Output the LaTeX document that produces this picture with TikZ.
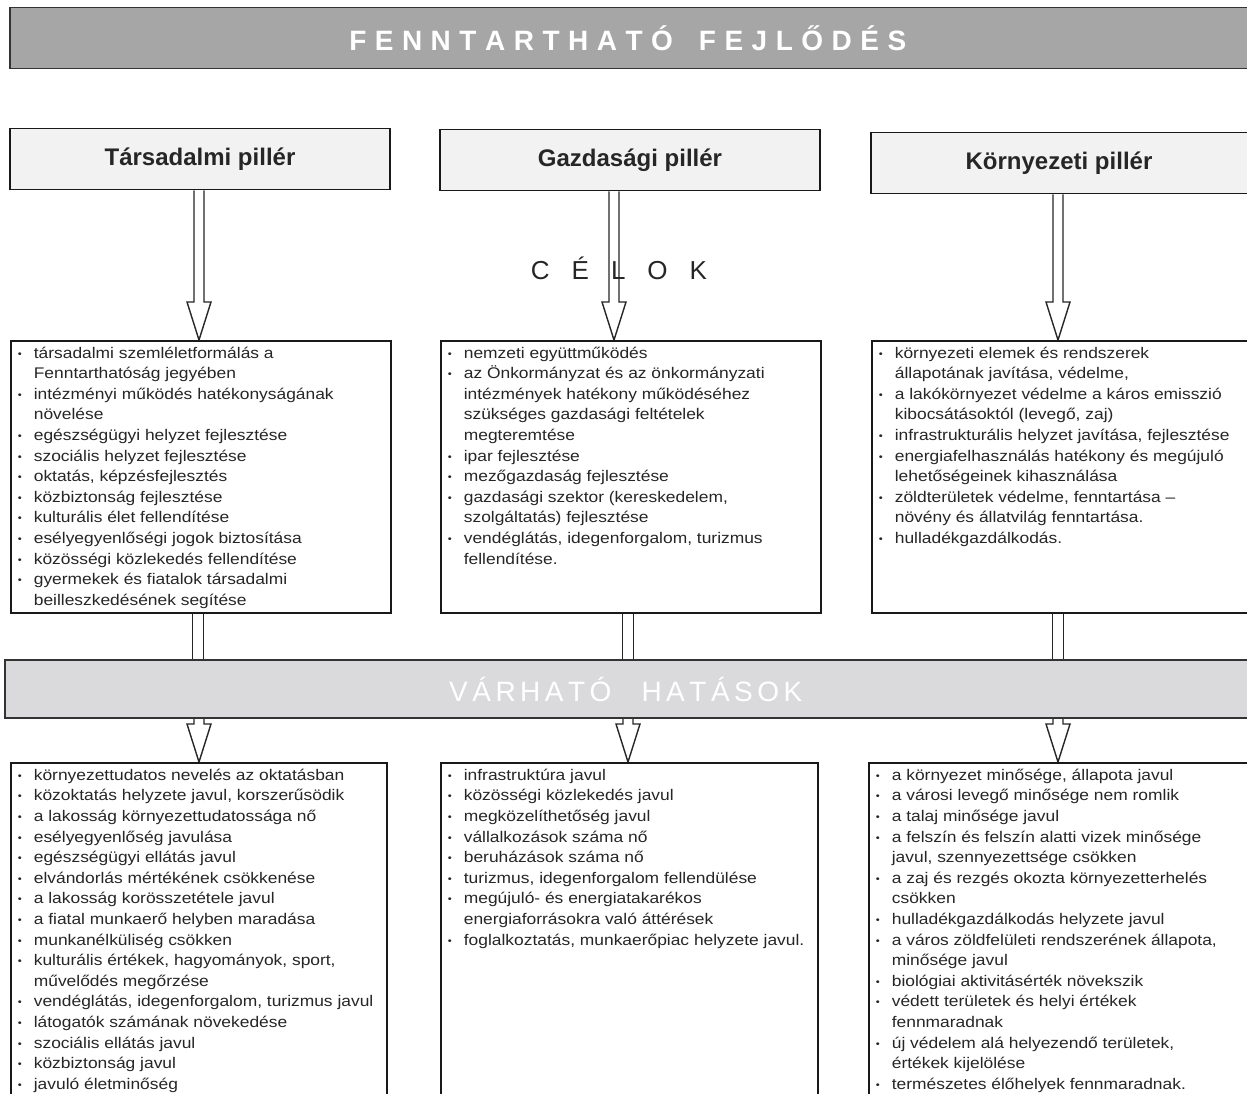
\documentclass[tikz,border=0pt]{standalone}
\usepackage{fontspec}
\setmainfont{Liberation Sans}
\newfontfamily\bodyfont{Liberation Sans}[FakeStretch=1.13]
\usetikzlibrary{calc}
\pgfdeclarelayer{bg}
\pgfsetlayers{bg,main}

\newlength\spgap
\makeatletter
\def\spc#1{\spc@aux#1\@nil}
\def\spc@aux#1{\ifx#1\@nil\hspace{-\spgap}\else#1\hspace{\spgap}\expandafter\spc@aux\fi}
\makeatother

\newcommand\bul{\par\noindent\hangindent=17pt\hangafter=1\makebox[17pt][l]{\hspace{1pt}\raisebox{1pt}{\fontsize{10}{10}\selectfont •}}}
\newcommand\boxtext[3]{\parbox[c][#1][t]{#2}{\raggedright\bodyfont\fontsize{15.4}{20.6}\selectfont\color{black!85}#3}}

\newcommand\hollowarrow[3]{%
  \begin{pgfonlayer}{bg}
  \filldraw[hollow] let \p1=(#1.south), \p2=(#2.north) in
    (#3pt-5pt,\y1) -- (#3pt-5pt,\y2+38pt) -- (#3pt-12pt,\y2+38pt) -- (#3pt,\y2)
    -- (#3pt+12pt,\y2+38pt) -- (#3pt+5pt,\y2+38pt) -- (#3pt+5pt,\y1);
  \end{pgfonlayer}}
\newcommand\hollowlink[3]{%
  \begin{pgfonlayer}{bg}
  \fill[white] let \p1=(#1.south), \p2=(#2.north) in (#3pt-5.5pt,\y1) rectangle (#3pt+5.5pt,\y2);
  \draw[hollow] let \p1=(#1.south), \p2=(#2.north) in
    (#3pt-5.5pt,\y1) -- (#3pt-5.5pt,\y2) (#3pt+5.5pt,\y1) -- (#3pt+5.5pt,\y2);
  \end{pgfonlayer}}

\tikzset{
  hollow/.style={draw=black!85, line width=1.4pt, fill=white},
  titlebar/.style={draw=black!80, line width=1.8pt, fill={rgb,255:red,166;green,166;blue,166},
    minimum width=1244pt, minimum height=61pt, inner sep=0pt, text=white,
    font=\fontsize{28}{32}\selectfont\bfseries},
  effectbar/.style={draw=black!80, line width=1.7pt, fill={rgb,255:red,218;green,218;blue,220},
    minimum width=1246pt, minimum height=58pt, inner sep=0pt, text=white,
    font=\fontsize{28}{32}\selectfont},
  pillar/.style={draw=black!90, line width=1.8pt, fill=black!5, minimum width=380pt,
    minimum height=61pt, inner sep=0pt, text=black!85, font=\fontsize{24}{28}\selectfont\bfseries},
  listbox/.style={draw=black!90, line width=1.7pt, fill=white, anchor=north west,
    inner xsep=6pt, inner ysep=6pt},
  celok/.style={text=black!85, font=\fontsize{26}{30}\selectfont, inner sep=0pt}
}

\begin{document}
\begin{tikzpicture}[x=1pt,y=-1pt]
\useasboundingbox (0,0) rectangle (1247,1093);
\clip (0,0) rectangle (1247,1093);
\begin{pgfonlayer}{bg}
\fill[white] (0,0) rectangle (1247,1093);
\end{pgfonlayer}

% title
\node[titlebar] (title) at (632,38) {\setlength\spgap{8.5pt}\spc{FENNTARTHATÓ}\hspace{26pt}\spc{FEJLŐDÉS}};

% pillars
\node[pillar] (h1) at (200,159) {Társadalmi pillér};
\node[pillar] (h2) at (630,160) {Gazdasági pillér};
\node[pillar, minimum width=384pt] (h3) at (1063,163) {\hspace*{-8pt}Környezeti pillér};

\node[celok] (celok) at (630,268) {\setlength\spgap{22pt}\spc{CÉLOK}};

% goals
\node[listbox] (g1) at (10,340) {\boxtext{260pt}{368pt}{%
\bul társadalmi szemléletformálás a\newline Fenntarthatóság jegyében
\bul intézményi működés hatékonyságának\newline növelése
\bul egészségügyi helyzet fejlesztése
\bul szociális helyzet fejlesztése
\bul oktatás, képzésfejlesztés
\bul közbiztonság fejlesztése
\bul kulturális élet fellendítése
\bul esélyegyenlőségi jogok biztosítása
\bul közösségi közlekedés fellendítése
\bul gyermekek és fiatalok társadalmi\newline beilleszkedésének segítése}};

\node[listbox] (g2) at (440,340) {\boxtext{260pt}{368pt}{%
\bul nemzeti együttműködés
\bul az Önkormányzat és az önkormányzati\newline intézmények hatékony működéséhez\newline szükséges gazdasági feltételek\newline megteremtése
\bul ipar fejlesztése
\bul mezőgazdaság fejlesztése
\bul gazdasági szektor (kereskedelem,\newline szolgáltatás) fejlesztése
\bul vendéglátás, idegenforgalom, turizmus\newline fellendítése.}};

\node[listbox] (g3) at (871,340) {\boxtext{260pt}{372pt}{%
\bul környezeti elemek és rendszerek\newline állapotának javítása, védelme,
\bul a lakókörnyezet védelme a káros emisszió\newline kibocsátásoktól (levegő, zaj)
\bul infrastrukturális helyzet javítása, fejlesztése
\bul energiafelhasználás hatékony és megújuló\newline lehetőségeinek kihasználása
\bul zöldterületek védelme, fenntartása –\newline növény és állatvilág fenntartása.
\bul hulladékgazdálkodás.}};

% effects bar
\node[effectbar] (bar) at (628,689) {\setlength\spgap{4.5pt}\spc{VÁRHATÓ}\hspace{30pt}\spc{HATÁSOK}};

% effects
\node[listbox] (b1) at (10,762) {\boxtext{330pt}{364pt}{%
\bul környezettudatos nevelés az oktatásban
\bul közoktatás helyzete javul, korszerűsödik
\bul a lakosság környezettudatossága nő
\bul esélyegyenlőség javulása
\bul egészségügyi ellátás javul
\bul elvándorlás mértékének csökkenése
\bul a lakosság korösszetétele javul
\bul a fiatal munkaerő helyben maradása
\bul munkanélküliség csökken
\bul kulturális értékek, hagyományok, sport,\newline művelődés megőrzése
\bul vendéglátás, idegenforgalom, turizmus javul
\bul látogatók számának növekedése
\bul szociális ellátás javul
\bul közbiztonság javul
\bul javuló életminőség}};

\node[listbox] (b2) at (440,762) {\boxtext{330pt}{365pt}{%
\bul infrastruktúra javul
\bul közösségi közlekedés javul
\bul megközelíthetőség javul
\bul vállalkozások száma nő
\bul beruházások száma nő
\bul turizmus, idegenforgalom fellendülése
\bul megújuló- és energiatakarékos\newline energiaforrásokra való áttérések
\bul foglalkoztatás, munkaerőpiac helyzete javul.}};

\node[listbox] (b3) at (868,762) {\boxtext{330pt}{376pt}{%
\bul a környezet minősége, állapota javul
\bul a városi levegő minősége nem romlik
\bul a talaj minősége javul
\bul a felszín és felszín alatti vizek minősége\newline javul, szennyezettsége csökken
\bul a zaj és rezgés okozta környezetterhelés\newline csökken
\bul hulladékgazdálkodás helyzete javul
\bul a város zöldfelületi rendszerének állapota,\newline minősége javul
\bul biológiai aktivitásérték növekszik
\bul védett területek és helyi értékek\newline fennmaradnak
\bul új védelem alá helyezendő területek,\newline értékek kijelölése
\bul természetes élőhelyek fennmaradnak.}};

% connectors
\hollowarrow{h1}{g1}{199}
\hollowarrow{h2}{g2}{614}
\hollowarrow{h3}{g3}{1058}
\hollowlink{g1}{bar}{198}
\hollowlink{g2}{bar}{628}
\hollowlink{g3}{bar}{1058}
\hollowarrow{bar}{b1}{199}
\hollowarrow{bar}{b2}{628}
\hollowarrow{bar}{b3}{1058}
\end{tikzpicture}
\end{document}
